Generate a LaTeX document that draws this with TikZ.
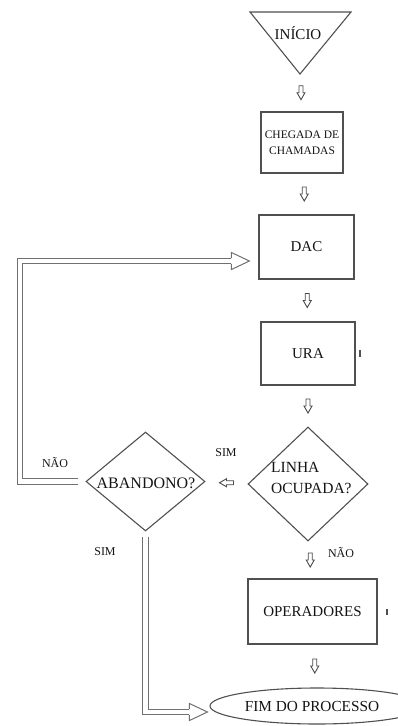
\documentclass[tikz,border=0pt]{standalone}
\usepackage{fontspec}
\setmainfont{Liberation Serif}
\newfontfamily\diagfont{Liberation Serif}
\usetikzlibrary{shapes.geometric,calc}
\definecolor{boxc}{HTML}{505050}
\definecolor{dblc}{HTML}{707070}
\definecolor{arrc}{HTML}{4A4A4A}
\definecolor{txt}{HTML}{141414}
\begin{document}
\begin{tikzpicture}[x=1pt,y=-1pt,
  box/.style={draw=boxc, line width=1.2pt, rectangle, inner sep=0pt, text=txt, font=\diagfont\fontsize{15}{17}\selectfont},
  diam/.style={draw=boxc, line width=1.1pt, diamond, inner sep=0pt},
  dbl/.style={draw=dblc, line width=1pt, double=white, double distance=4.6pt, line join=miter},
  lab/.style={font=\diagfont\fontsize{12}{14}\selectfont, text=txt, inner sep=0pt},
  txtnode/.style={text=txt, inner sep=0pt},
  sarrow/.pic={\draw[arrc, line width=0.9pt, line join=miter] (-7,-2)--(0,-2)--(0,-4)--(7,0)--(0,4)--(0,2)--(-7,2)--cycle;},
  bhead/.pic={\draw[dblc, line width=1pt, line join=miter] (-18,-2.8)--(-18,-8.5)--(0,0)--(-18,8.5)--(-18,2.8);}
]
\useasboundingbox (0,0) rectangle (398,726);

% start triangle
\coordinate (apex) at (300,74);
\draw[boxc, line width=1.1pt, line join=miter] (250,12) -- (351,12) -- (apex) -- cycle;
\node[txtnode, font=\diagfont\fontsize{15}{17}\selectfont] (inicio) at (298,33) {INÍCIO};

% boxes
\node[box, minimum width=82pt, minimum height=61pt, align=center, font=\diagfont\fontsize{11.5}{16}\selectfont] (cheg) at (302,142.5) {CHEGADA DE\\CHAMADAS};
\node[box, minimum width=95pt, minimum height=64pt] (dac) at (306.5,247) {DAC};
\node[box, minimum width=94pt, minimum height=63pt] (ura) at (308,353.5) {URA};
\node[diam, minimum width=120pt, minimum height=114pt] (linha) at (308,484) {};
\node[txtnode, align=left, anchor=west, font=\diagfont\fontsize{15.5}{21}\selectfont] (linhat) at (271,478) {LINHA\\OCUPADA?};
\node[diam, minimum width=119pt, minimum height=99pt] (aband) at (145.5,481.5) {};
\node[txtnode, font=\diagfont\fontsize{16}{18}\selectfont] (abandt) at (146,483) {ABANDONO?};
\node[box, minimum width=129pt, minimum height=65pt] (oper) at (312.5,611.5) {OPERADORES};
\node[draw=boxc, line width=1.1pt, ellipse, inner sep=0pt, minimum width=214pt, minimum height=36pt] (fim) at (317,706) {};
\node[txtnode, font=\diagfont\fontsize{15.3}{17}\selectfont] (fimt) at (312,707) {FIM DO PROCESSO};

% small block arrows
\pic[rotate=-90] at ($(apex)!.5!(cheg.north)$) {sarrow};
\pic[rotate=-90] at ($(cheg.south)!.5!(dac.north)$) {sarrow};
\pic[rotate=-90] at ($(dac.south)!.5!(ura.north)$) {sarrow};
\pic[rotate=-90] at ($(ura.south)!.5!(linha.north)$) {sarrow};
\pic[rotate=180] at ($(aband.east)!.5!(linha.west)$) {sarrow};
\pic[rotate=-90] at ($(linha.south)!.5!(oper.north)$) {sarrow};
\pic[rotate=-90] at ($(oper.south)!.5!(fim.north)$) {sarrow};

% labels
\node[lab] (sim1) at (226,453) {SIM};
\node[lab] (nao1) at (341,553) {NÃO};
\node[lab] (nao2) at (55,463) {NÃO};
\node[lab] (sim2) at (105,552) {SIM};

% double connectors
\coordinate (tipA) at ($(dac.west)+(-9,14)$);
\draw[dbl] ([xshift=-7pt]aband.west) -- (20,481.5) -- (20,261) -- ($(tipA)+(-18,0)$);
\pic at (tipA) {bhead};
\coordinate (tipB) at ($(fim.west)+(-2,6)$);
\draw[dbl] ([yshift=-5pt]aband.south) |- ($(tipB)+(-18,0)$);
\pic at (tipB) {bhead};

% small marks
\draw[boxc, line width=1.2pt] (360,350) -- (360,357);
\draw[boxc, line width=1.2pt] (387,609) -- (387,615);
\end{tikzpicture}
\end{document}
